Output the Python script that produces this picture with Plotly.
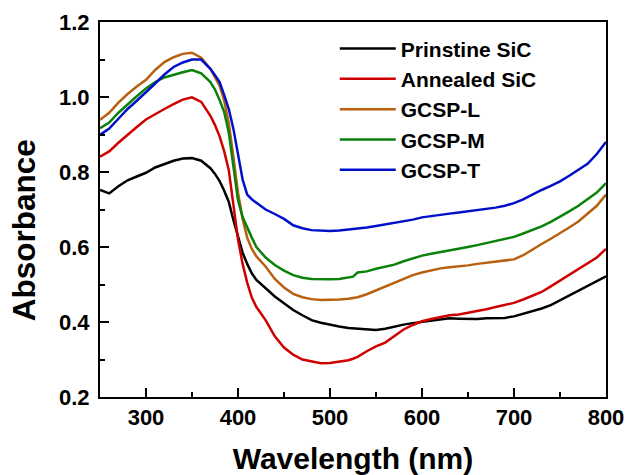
import plotly.graph_objects as go

wavelength = [250, 260, 270, 280, 290, 300, 310, 320, 330, 340, 350, 360, 370, 375, 380, 385,
              390, 395, 400, 405, 410, 415, 420, 430, 440, 450, 460, 470, 480, 490, 500, 510,
              520, 525, 530, 540, 550, 560, 570, 580, 590, 600, 610, 620, 630, 640, 650, 660,
              670, 680, 690, 700, 710, 720, 730, 740, 750, 760, 770, 780, 790, 800]

prinstine_sic = [0.752, 0.743, 0.762, 0.778, 0.788, 0.798, 0.812, 0.822, 0.830, 0.836, 0.837, 0.830,
                 0.810, 0.795, 0.776, 0.750, 0.720, 0.672, 0.625, 0.585, 0.555, 0.530, 0.512, 0.490,
                 0.468, 0.450, 0.432, 0.418, 0.405, 0.398, 0.392, 0.388, 0.384, 0.383, 0.382, 0.380,
                 0.379, 0.382, 0.388, 0.393, 0.397, 0.400, 0.405, 0.408, 0.410, 0.409, 0.408, 0.408,
                 0.410, 0.410, 0.411, 0.415, 0.422, 0.428, 0.436, 0.445, 0.458, 0.470, 0.482, 0.495,
                 0.508, 0.522]

annealed_sic = [0.841, 0.855, 0.878, 0.900, 0.920, 0.940, 0.955, 0.968, 0.981, 0.993, 0.999, 0.987,
                0.950, 0.925, 0.895, 0.855, 0.805, 0.705, 0.620, 0.555, 0.505, 0.465, 0.440, 0.405,
                0.362, 0.332, 0.313, 0.300, 0.294, 0.290, 0.291, 0.294, 0.298, 0.302, 0.307, 0.322,
                0.335, 0.345, 0.362, 0.380, 0.392, 0.402, 0.408, 0.413, 0.418, 0.420, 0.424, 0.428,
                0.434, 0.440, 0.445, 0.451, 0.460, 0.470, 0.480, 0.495, 0.510, 0.525, 0.540, 0.555,
                0.572, 0.595]

gcsp_l = [0.939, 0.958, 0.985, 1.008, 1.028, 1.046, 1.072, 1.093, 1.106, 1.115, 1.118, 1.105,
          1.075, 1.054, 1.030, 0.990, 0.930, 0.840, 0.745, 0.675, 0.625, 0.595, 0.575, 0.548,
          0.515, 0.492, 0.475, 0.466, 0.461, 0.459, 0.459, 0.460, 0.462, 0.464, 0.466, 0.474,
          0.484, 0.494, 0.506, 0.516, 0.525, 0.532, 0.538, 0.543, 0.546, 0.548, 0.551, 0.555,
          0.558, 0.560, 0.563, 0.567, 0.578, 0.594, 0.608, 0.622, 0.636, 0.652, 0.668, 0.688,
          0.710, 0.740]

gcsp_m = [0.917, 0.932, 0.958, 0.981, 1.002, 1.023, 1.040, 1.052, 1.060, 1.066, 1.072, 1.063,
          1.040, 1.020, 0.992, 0.960, 0.905, 0.815, 0.725, 0.680, 0.650, 0.625, 0.600, 0.572,
          0.552, 0.537, 0.525, 0.518, 0.515, 0.514, 0.514, 0.515, 0.518, 0.521, 0.532, 0.535,
          0.542, 0.548, 0.553, 0.562, 0.570, 0.577, 0.582, 0.586, 0.590, 0.594, 0.600, 0.605,
          0.610, 0.615, 0.620, 0.627, 0.636, 0.645, 0.655, 0.667, 0.680, 0.695, 0.710, 0.727,
          0.745, 0.770]

gcsp_t = [0.899, 0.916, 0.942, 0.968, 0.990, 1.012, 1.036, 1.060, 1.080, 1.092, 1.100, 1.100,
          1.075, 1.058, 1.040, 1.005, 0.968, 0.915, 0.848, 0.780, 0.740, 0.727, 0.718, 0.700,
          0.688, 0.675, 0.658, 0.650, 0.645, 0.643, 0.643, 0.644, 0.646, 0.648, 0.649, 0.652,
          0.656, 0.660, 0.664, 0.668, 0.673, 0.679, 0.683, 0.686, 0.689, 0.692, 0.695, 0.698,
          0.701, 0.705, 0.710, 0.717, 0.727, 0.740, 0.752, 0.763, 0.775, 0.790, 0.805, 0.822,
          0.848, 0.880]

series_names = ["Prinstine SiC", "Annealed SiC", "GCSP-L", "GCSP-M", "GCSP-T"]
series_values = [prinstine_sic, annealed_sic, gcsp_l, gcsp_m, gcsp_t]
series_colors = ["#000000", "#d00000", "#b8600f", "#0a820a", "#0010c8"]

x_ticks = [300, 400, 500, 600, 700, 800]
y_ticks = [0.2, 0.4, 0.6, 0.8, 1.0, 1.2]

FONT = "Liberation Sans, Arial, sans-serif"

fig = go.Figure()
for i, (name, vals, col) in enumerate(zip(series_names, series_values, series_colors)):
    fig.add_trace(go.Scatter(x=wavelength, y=vals, mode="lines", name=name,
                             line=dict(color=col, width=2.5), legendgroup=f"g{i}"))

axis_common = dict(showline=True, linecolor="black", linewidth=2, mirror=True,
                   ticks="inside", ticklen=9, tickwidth=2, tickcolor="black",
                   showgrid=False, zeroline=False,
                   tickfont=dict(family=FONT, size=22, color="black", weight="bold"))

fig.update_xaxes(range=[250, 800], tickvals=x_ticks,
                 minor=dict(ticks="inside", ticklen=5, tickwidth=2, tickcolor="black", dtick=50, tick0=250),
                 title=dict(text="Wavelength (nm)", font=dict(family=FONT, size=30, color="black", weight="bold"),
                            standoff=28),
                 **axis_common)
fig.update_yaxes(range=[0.2, 1.2], tickvals=y_ticks, tickformat=".1f", ticklabelstandoff=4,
                 minor=dict(ticks="inside", ticklen=5, tickwidth=2, tickcolor="black", dtick=0.1, tick0=0.2),
                 **axis_common)

# y-axis title placed as in the reference (slightly below the axis centre)
fig.add_annotation(text="Absorbance", textangle=-90, xref="paper", yref="paper",
                   x=-0.15, y=0.445, xanchor="center", yanchor="middle", showarrow=False,
                   font=dict(family=FONT, size=31.5, color="black", weight="bold"))

fig.update_layout(
    width=629, height=475,
    margin=dict(l=100, r=23, t=22, b=78, autoexpand=False),
    plot_bgcolor="white", paper_bgcolor="white",
    legend=dict(x=0.464, y=0.983, xanchor="left", yanchor="top",
                font=dict(family=FONT, size=21, color="black", weight="bold"),
                itemwidth=56, tracegroupgap=0, bgcolor="rgba(0,0,0,0)"),
)

fig.write_html("out.html", config={"displayModeBar": False},
               post_script="document.body.style.margin='0';document.body.style.padding='0';")
